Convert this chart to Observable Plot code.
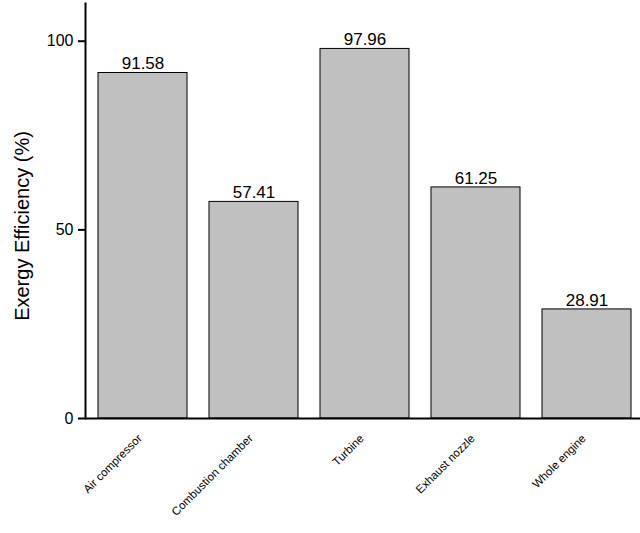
<!DOCTYPE html>
<html>
<head>
<meta charset="utf-8">
<script src="https://cdn.jsdelivr.net/npm/d3@7"></script>
<script src="https://cdn.jsdelivr.net/npm/@observablehq/plot@0.6"></script>
<style>
  html, body { margin: 0; padding: 0; background: #fff; }
  svg { display: block; }
</style>
</head>
<body>
<div id="chart"></div>
<script>
const categories = ["Air compressor", "Combustion chamber", "Turbine", "Exhaust nozzle", "Whole engine"];
const efficiency = [91.58, 57.41, 97.96, 61.25, 28.91];
const valueLabels = ["91.58", "57.41", "97.96", "61.25", "28.91"];
const yTicks = [0, 50, 100];

const data = categories.map((c, i) => ({category: c, value: efficiency[i], label: valueLabels[i]}));

const chart = Plot.plot({
  width: 640,
  height: 533,
  marginLeft: 85,
  marginRight: 0,
  marginTop: 3,
  marginBottom: 115,
  style: {fontFamily: "Liberation Sans, Arial, sans-serif", background: "#fff", overflow: "visible"},
  x: {domain: categories, range: [85, 644], paddingInner: 0.2, paddingOuter: 0.1},
  y: {domain: [0, 110]},
  marks: [
    Plot.barY(data, {x: "category", y: "value", fill: "#c0c0c0", stroke: "#000", strokeWidth: 1}),
    Plot.text(data, {x: "category", y: "value", text: "label", dy: -9, fontSize: 17, fill: "#000"}),
    Plot.frame({anchor: "left", stroke: "#000", strokeWidth: 2}),
    Plot.ruleY([0], {stroke: "#000", strokeWidth: 2}),
    Plot.axisY({ticks: yTicks, tickSize: 7, tickPadding: 5, fontSize: 16, label: null, strokeWidth: 2}),
    Plot.axisX({tickSize: 0, tickRotate: -45, fontSize: 11.5, tickPadding: 18, label: null, dx: -3}),
    Plot.text(["Exergy Efficiency (%)"], {frameAnchor: "left", dx: -63, dy: 15, rotate: -90, fontSize: 20, fill: "#000", textAnchor: "middle"})
  ]
});
document.getElementById("chart").appendChild(chart);
</script>
</body>
</html>
